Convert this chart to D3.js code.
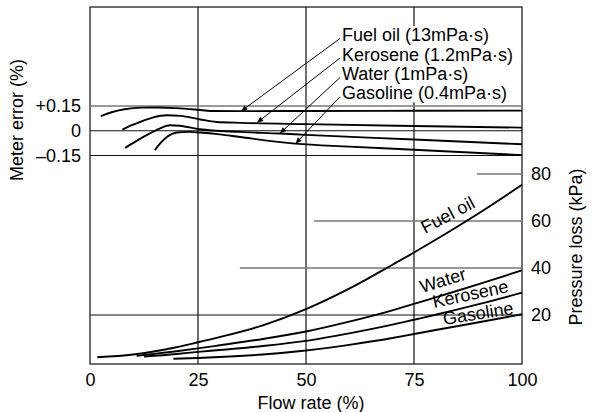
<!DOCTYPE html>
<html><head><meta charset="utf-8">
<script src="https://cdn.jsdelivr.net/npm/d3@7"></script>
<style>
body{margin:0;background:#fff}
svg{display:block}
text{font-family:"Liberation Sans",Arial,Helvetica,sans-serif;fill:#000}
</style>
</head><body>
<svg id="c" width="594" height="412"></svg>
<script>
// ---------- data ----------
const fluids = ["Fuel oil", "Kerosene", "Water", "Gasoline"];
const viscosity = ["13mPa·s", "1.2mPa·s", "1mPa·s", "0.4mPa·s"];
const flowTicks = [0, 25, 50, 75, 100];
const errorTicks = [0.15, 0, -0.15];
const errorTickLabels = ["+0.15", "0", "–0.15"];
const pressureTicks = [20, 40, 60, 80];
const pressureGridFrom = [0, 34.7, 51.9, 89.6];   // flow % where each pressure gridline starts
const verticalGrid = [25, 50, 75];

// meter error (%) vs flow rate (%)
const errFuelOil  = [[2.5,0.088],[5,0.112],[8,0.130],[12,0.140],[16,0.141],[20,0.137],[25,0.127],[28,0.120],[35,0.119],[50,0.120],[75,0.121],[100,0.122]];
const errKerosene = [[7.5,0.007],[9.5,0.032],[11.6,0.053],[14.5,0.080],[17.8,0.094],[21,0.090],[25.3,0.070],[29.3,0.053],[35,0.048],[50,0.040],[75,0.029],[100,0.019]];
const errWater    = [[8.1,-0.104],[10.5,-0.066],[13.1,-0.027],[16,0.012],[18.5,0.033],[20.8,0.030],[25.4,0.009],[34.7,-0.007],[44,-0.017],[50,-0.025],[75,-0.053],[100,-0.082]];
const errGasoline = [[15,-0.118],[16.3,-0.075],[17.8,-0.038],[20.1,-0.011],[23,-0.007],[25.4,-0.011],[30,-0.022],[34.7,-0.038],[47.5,-0.078],[60,-0.096],[75,-0.115],[100,-0.148]];

// pressure loss (kPa) vs flow rate (%)
const pFuelOil  = [[1.7,2.0],[10,3.2],[20,6.3],[25,8.4],[30,10.6],[40,15.6],[50,22.5],[60,31.2],[70,41.4],[75,46.6],[80,52.0],[90,63.3],[100,75.4]];
const pKerosene = [[12.5,2.3],[20,3.4],[25,4.3],[30,5.1],[40,6.8],[50,9.0],[60,12.2],[70,15.9],[75,18.0],[80,20.1],[90,24.6],[100,29.5]];
const pWater    = [[10.8,2.6],[20,4.6],[25,5.8],[30,7.1],[40,9.8],[50,13.0],[60,17.2],[70,22.0],[75,24.7],[80,27.5],[90,33.1],[100,39.0]];
const pGasoline = [[19.3,1.4],[25,1.7],[30,2.1],[40,3.2],[50,4.9],[60,7.3],[70,10.2],[75,11.9],[80,13.6],[90,16.9],[100,20.3]];

// arrow targets on the error curves
const arrowFlow = [35, 38.7, 44, 47.6];
const arrowErr  = [0.119, 0.050, -0.015, -0.077];

// ---------- layout ----------
const svg = d3.select("#c");
const L = 90, R = 522, T = 7, B = 364;
const x = d3.scaleLinear([0, 100], [L, R]);
const yE = d3.scaleLinear([-0.15, 0.15], [155.5, 106]);
const yP = d3.scaleLinear([0, 80], [362, 174]);
const FS = 18;

// frame
svg.append("rect").attr("x", L).attr("y", T).attr("width", R - L).attr("height", B - T)
  .attr("fill", "none").attr("stroke", "#222").attr("stroke-width", 1.3);

// vertical gridlines
svg.selectAll(".vg").data(verticalGrid).join("line")
  .attr("x1", d => x(d)).attr("x2", d => x(d)).attr("y1", T).attr("y2", B)
  .attr("stroke", "#111").attr("stroke-width", 1.2);

// error gridlines
svg.selectAll(".eg").data(errorTicks).join("line")
  .attr("x1", L).attr("x2", R).attr("y1", d => yE(d)).attr("y2", d => yE(d))
  .attr("stroke", d => d > 0 ? "#777" : "#111").attr("stroke-width", d => d > 0 ? 1.7 : 1.2);

// pressure gridlines
svg.selectAll(".pg").data(pressureTicks).join("line")
  .attr("x1", (d, i) => x(pressureGridFrom[i])).attr("x2", R)
  .attr("y1", d => yP(d)).attr("y2", d => yP(d))
  .attr("stroke", d => d === 20 ? "#111" : "#777").attr("stroke-width", d => d === 20 ? 1.2 : 1.4);

// axes (labels only)
const fmtAxis = g => { g.select(".domain").remove(); g.selectAll("text").attr("font-size", FS).attr("font-family", "Liberation Sans, Arial, sans-serif"); };
svg.append("g").attr("transform", `translate(0,${B})`)
  .call(d3.axisBottom(x).tickValues(flowTicks).tickSize(0).tickPadding(9)).call(fmtAxis);
svg.append("g").attr("transform", `translate(${L},0)`)
  .call(d3.axisLeft(yE).tickValues(errorTicks).tickFormat((d, i) => errorTickLabels[i]).tickSize(0).tickPadding(9)).call(fmtAxis);
svg.append("g").attr("transform", `translate(${R},0)`)
  .call(d3.axisRight(yP).tickValues(pressureTicks).tickSize(0).tickPadding(9)).call(fmtAxis);

// axis titles
svg.append("text").attr("transform", "translate(23,120) rotate(-90)").attr("text-anchor", "middle")
  .attr("font-size", FS).text("Meter error (%)");
svg.append("text").attr("transform", "translate(582,247) rotate(-90)").attr("text-anchor", "middle")
  .attr("font-size", FS).text("Pressure loss (kPa)");
svg.append("text").attr("x", 311).attr("y", 409).attr("text-anchor", "middle")
  .attr("font-size", FS).text("Flow rate (%)");

// curves
const lineE = d3.line().x(d => x(d[0])).y(d => yE(d[1])).curve(d3.curveMonotoneX);
const lineP = d3.line().x(d => x(d[0])).y(d => yP(d[1])).curve(d3.curveMonotoneX);
const errSeries = [errFuelOil, errKerosene, errWater, errGasoline];
const pSeries = [pFuelOil, pKerosene, pWater, pGasoline];
svg.selectAll(".ec").data(errSeries).join("path").attr("d", lineE)
  .attr("fill", "none").attr("stroke", "#000").attr("stroke-width", 1.9);
svg.selectAll(".pc").data(pSeries).join("path").attr("d", lineP)
  .attr("fill", "none").attr("stroke", "#000").attr("stroke-width", 1.9);

// legend labels with white background
const labelX = 342, labelBase = [41, 60.5, 80, 99.3];
const lg = svg.append("g");
const bgRect = lg.append("rect").attr("fill", "#fff");
const lt = lg.selectAll("text").data(fluids).join("text")
  .attr("x", labelX).attr("y", (d, i) => labelBase[i]).attr("font-size", FS)
  .text((d, i) => `${d} (${viscosity[i]})`);
const bb = lg.node().getBBox();
bgRect.attr("x", bb.x).attr("y", bb.y + 1).attr("width", bb.width).attr("height", bb.height - 2);

// arrows
const defs = svg.append("defs");
defs.append("marker").attr("id", "ah").attr("viewBox", "0 0 10 10").attr("refX", 10).attr("refY", 5)
  .attr("markerWidth", 8).attr("markerHeight", 6).attr("markerUnits", "userSpaceOnUse").attr("orient", "auto")
  .append("path").attr("d", "M0,0.5 L10,5 L0,9.5 z").attr("fill", "#000");
svg.selectAll(".ar").data(fluids).join("line")
  .attr("x1", labelX - 2).attr("y1", (d, i) => labelBase[i] - 2.5)
  .attr("x2", (d, i) => x(arrowFlow[i])).attr("y2", (d, i) => yE(arrowErr[i]))
  .attr("stroke", "#000").attr("stroke-width", 1).attr("marker-end", "url(#ah)");

// curve labels (pressure loss)
const curveLabel = ["Fuel oil", "Water", "Kerosene", "Gasoline"];
const curveLabelX = [425, 422, 434, 444];
const curveLabelY = [234, 293, 308, 325];
const curveLabelAngle = [28, 17, 12, 9];
svg.selectAll(".cl").data(curveLabel).join("text")
  .attr("transform", (d, i) => `translate(${curveLabelX[i]},${curveLabelY[i]}) rotate(${-curveLabelAngle[i]})`)
  .attr("font-size", FS).text(d => d);
</script>
</body></html>
